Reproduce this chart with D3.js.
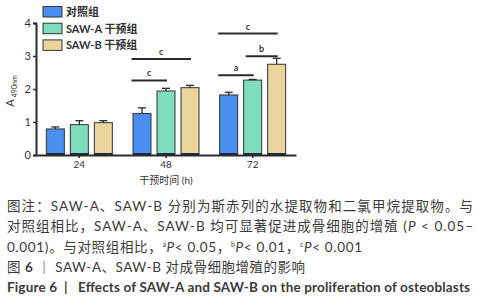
<!DOCTYPE html>
<html><head><meta charset="utf-8">
<script src="https://cdn.jsdelivr.net/npm/d3@7"></script>
<style>
body{margin:0;background:#fff;}
svg{display:block;font-family:Lato,"Noto Sans CJK SC",sans-serif;}
</style></head>
<body><svg id="c" width="492" height="300"></svg>
<script>
const categories = ["24","48","72"];
const seriesNames = ["对照组","SAW-A 干预组","SAW-B 干预组"];
const seriesColors = ["#4a8ff0","#7fdcbf","#ead59c"];
const control = [0.79, 1.26, 1.82];
const controlErr = [0.06, 0.17, 0.08];
const sawA = [0.92, 1.94, 2.27];
const sawAErr = [0.12, 0.08, 0.02];
const sawB = [0.98, 2.04, 2.75];
const sawBErr = [0.06, 0.07, 0.18];
const yTicks = [0,1,2,3,4];
const sigs = [
  {cat:"48", from:0, to:1, y:2.26, label:"c"},
  {cat:"48", from:0, to:2, y:2.91, label:"c"},
  {cat:"72", from:0, to:1, y:2.42, label:"a"},
  {cat:"72", from:1, to:2, y:2.99, label:"b"},
  {cat:"72", from:0, to:2, y:3.68, label:"c"}
];
const xTitle = "干预时间 (h)";

const svg = d3.select("#c");
const x = d3.scaleBand().domain(categories).range([36, 296]).padding(0);
const xs = d3.scaleBand().domain([0,1,2]).range([-33, 33]).paddingInner(0.25).paddingOuter(0);
const y = d3.scaleLinear().domain([0,4]).range([155, 23]);
const ink = "#2b2b2b";

const series = [control, sawA, sawB];
const errs = [controlErr, sawAErr, sawBErr];
const bars = [];
categories.forEach((c,i)=>series.forEach((s,j)=>bars.push({c, j, v:s[i], e:errs[j][i]})));

const g = svg.append("g");
g.selectAll("rect.bar").data(bars).join("rect")
  .attr("x", d=>x(d.c)+x.bandwidth()/2+xs(d.j))
  .attr("y", d=>y(d.v))
  .attr("width", xs.bandwidth())
  .attr("height", d=>y(0)-y(d.v))
  .attr("fill", d=>seriesColors[d.j])
  .attr("stroke", "#333").attr("stroke-width", 1);
g.selectAll("rect.base").data(bars).join("rect")
  .attr("x", d=>x(d.c)+x.bandwidth()/2+xs(d.j))
  .attr("y", y(0)-2).attr("width", xs.bandwidth()).attr("height", 2)
  .attr("fill", "#1a2a40");
const cx = d=>x(d.c)+x.bandwidth()/2+xs(d.j)+xs.bandwidth()/2;
g.selectAll("line.err").data(bars).join("line")
  .attr("x1", cx).attr("x2", cx)
  .attr("y1", d=>y(d.v)).attr("y2", d=>y(d.v+d.e))
  .attr("stroke", ink).attr("stroke-width", 1.3);
g.selectAll("line.cap").data(bars).join("line")
  .attr("x1", d=>cx(d)-4).attr("x2", d=>cx(d)+4)
  .attr("y1", d=>y(d.v+d.e)).attr("y2", d=>y(d.v+d.e))
  .attr("stroke", ink).attr("stroke-width", 1.3);

const ya = svg.append("g").attr("transform","translate(36,0)")
  .call(d3.axisLeft(y).tickValues(yTicks).tickSize(3).tickPadding(2).tickFormat(d3.format("d")));
ya.select(".domain").attr("stroke", ink).attr("stroke-width", 2);
ya.selectAll(".tick line").attr("stroke", ink).attr("stroke-width", 1.5);
ya.selectAll("text").attr("font-size", 11).attr("fill", "#333").attr("font-family","Lato, sans-serif");

const xa = svg.append("g").attr("transform",`translate(0,${y(0)})`)
  .call(d3.axisBottom(x).tickSize(3).tickPadding(3).tickSizeOuter(0));
xa.select(".domain").attr("stroke", ink).attr("stroke-width", 2);
xa.selectAll(".tick line").attr("stroke", ink).attr("stroke-width", 1.5);
xa.selectAll("text").attr("font-size", 10).attr("fill", "#333").attr("font-family","Lato, sans-serif");

svg.append("text").attr("x", 166).attr("y", 184).attr("text-anchor","middle")
  .attr("font-size", 10).attr("fill","#333").text(xTitle);

const yt = svg.append("text").attr("transform","translate(14,91) rotate(-90)")
  .attr("text-anchor","middle").attr("fill","#333").attr("font-size", 11);
yt.append("tspan").text("A");
yt.append("tspan").attr("font-size", 7).attr("dy", 3).attr("dx", 2).text("490nm");

sigs.forEach(s=>{
  const base = x(s.cat)+x.bandwidth()/2;
  const x1 = base+xs(s.from) - (s.from===0 ? 1.5 : -2);
  const x2 = base+xs(s.to)+xs.bandwidth()/2+1;
  svg.append("line").attr("x1",x1).attr("x2",x2).attr("y1",y(s.y)).attr("y2",y(s.y))
    .attr("stroke", ink).attr("stroke-width", 2);
  svg.append("text").attr("x",(x1+x2)/2).attr("y",y(s.y)-4).attr("text-anchor","middle")
    .attr("font-size", 9).attr("font-weight","bold").attr("fill","#333").text(s.label);
});

seriesNames.forEach((n,i)=>{
  svg.append("rect").attr("x",43).attr("y",6.5+i*16.7).attr("width",19).attr("height",10.5)
    .attr("fill",seriesColors[i]).attr("stroke","#333").attr("stroke-width",1);
  svg.append("text").attr("x",66).attr("y",16+i*16.7).attr("font-size",11)
    .attr("font-weight","bold").attr("fill","#333").text(n);
});

const cap = svg.append("g").attr("fill", "#3a3a3a").attr("font-size", 13.5);
cap.append("text").attr("x",7).attr("y",210.5).attr("textLength",466).attr("lengthAdjust","spacing")
  .text("图注：SAW-A、SAW-B 分别为斯赤列的水提取物和二氯甲烷提取物。与");
const l2 = cap.append("text").attr("x",7).attr("y",230.5).attr("textLength",466).attr("lengthAdjust","spacing");
l2.append("tspan").text("对照组相比，SAW-A、SAW-B 均可显著促进成骨细胞的增殖 (");
l2.append("tspan").attr("font-style","italic").text("P");
l2.append("tspan").text(" < 0.05–");
const l3 = cap.append("text").attr("x",7).attr("y",252).attr("textLength",355).attr("lengthAdjust","spacing");
l3.append("tspan").text("0.001)。与对照组相比，");
[["a","< 0.05，"],["b","< 0.01，"],["c","< 0.001"]].forEach(([sup,rest])=>{
  l3.append("tspan").attr("font-size",7).attr("dy",-5).text(sup);
  l3.append("tspan").attr("font-style","italic").attr("dy",5).text("P");
  l3.append("tspan").text(rest);
});
const l4 = cap.append("text").attr("x",7).attr("y",271.5).attr("textLength",298).attr("lengthAdjust","spacing");
l4.append("tspan").text("图 ");
l4.append("tspan").attr("font-weight","bold").text("6");
l4.append("tspan").text(" ｜ SAW-A、SAW-B 对成骨细胞增殖的影响");
cap.append("text").attr("x",7).attr("y",292).attr("font-weight","bold").attr("textLength",463).attr("lengthAdjust","spacing")
  .text("Figure 6\u00a0\u00a0|\u00a0\u00a0\u00a0Effects of SAW-A and SAW-B on the proliferation of osteoblasts");
</script></body></html>
